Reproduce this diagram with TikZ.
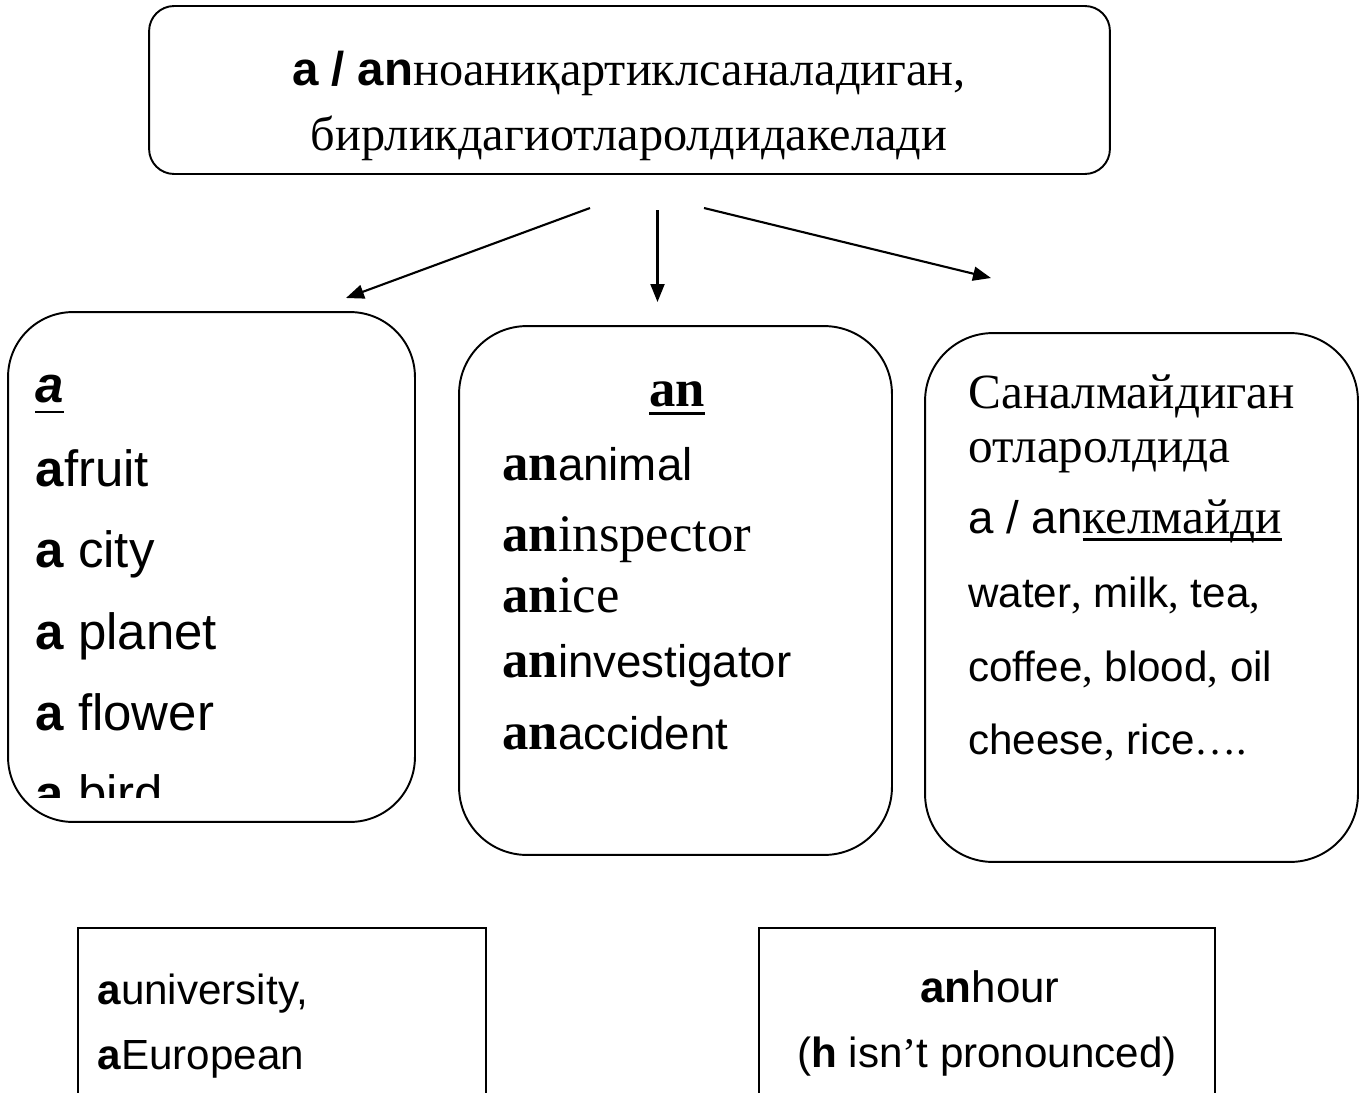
\documentclass[tikz,border=0pt]{standalone}
\usepackage{fontspec}
\setmainfont{Liberation Serif}
\setsansfont{Liberation Sans}
\usepackage{tikz}
\usetikzlibrary{arrows.meta}

\newcommand{\fsz}[1]{\fontsize{#1}{#1}\selectfont}
\newsavebox{\ulbox}
\newcommand{\ulat}[2]{\sbox{\ulbox}{#2}\rlap{\rule[-#1]{\wd\ulbox}{1.6pt}}\usebox{\ulbox}}

\tikzset{
  roundbox/.style={draw, line width=1.1pt, rounded corners=#1, inner sep=0pt},
  plainbox/.style={draw, line width=1pt, inner sep=0pt},
  txt/.style={inner sep=0pt, anchor=base west},
  ctxt/.style={inner sep=0pt, anchor=base},
  pointer/.style={line width=1.2pt, -{Triangle[length=0.36cm,width=0.28cm]}}
}

\begin{document}
\begin{tikzpicture}[x=0.02cm,y=-0.02cm]
        \useasboundingbox (0,0) rectangle (1364,1092);
        \clip (0,0) rectangle (1364,1092);
        % boxes
        \node[roundbox=0.5cm, minimum width=19.22cm, minimum height=3.36cm] (top) at (629.5,90) {};
        \node[roundbox=1.3cm, minimum width=8.14cm, minimum height=10.2cm] (boxa) at (211.5,567) {};
        \node[roundbox=1.36cm, minimum width=8.66cm, minimum height=10.58cm] (boxan) at (675.5,590.5) {};
        \node[roundbox=1.36cm, minimum width=8.66cm, minimum height=10.58cm] (boxnone) at (1141.5,597.5) {};
        \node[plainbox, minimum width=8.16cm, minimum height=4.04cm] (boxuni) at (282,1029) {};
        \node[plainbox, minimum width=9.12cm, minimum height=4.04cm] (boxhour) at (987,1029) {};
        % top text
        \node[ctxt] (topA) at (629,85) {\fsz{27.5pt}{\sffamily\bfseries\fsz{27pt}a / an}ноаниқартиклсаналадиган,};
        \node[ctxt] (topB) at (629,150) {\fsz{27.5pt}бирликдагиотларолдидакелади};
        % arrows
        \coordinate (fromL) at (590,208);
        \coordinate (toL) at (346,298);
        \coordinate (fromM) at (657.5,210);
        \coordinate (toM) at (657.5,302);
        \coordinate (fromR) at (704,208);
        \coordinate (toR) at (991,278);
        \draw[pointer] (fromL) -- (toL);
        \draw[pointer] (fromM) -- (toM);
        \draw[pointer] (fromR) -- (toR);
        % left box: a
        \begin{scope}[font=\sffamily\fsz{29pt}]
          \node[txt] (aHead) at (35,402) {\ulat{6.5pt}{\bfseries\itshape a}};
          \node[txt] (aFruit) at (35,486) {\textbf{a}fruit};
          \node[txt] (aCity) at (35,567) {\textbf{a} city};
          \node[txt] (aPlanet) at (35,649) {\textbf{a} planet};
          \node[txt] (aFlower) at (35,730) {\textbf{a} flower};
          \clip (10,314) rectangle (413,797);
          \node[txt] (aBird) at (35,811) {\textbf{a} bird};
        \end{scope}
        % middle box: an
        \begin{scope}[font=\rmfamily\fsz{30pt}]
          \node[ctxt] (anHead) at (677,406) {\bfseries\ulat{5pt}{an}};
          \node[txt] (anAnimal) at (502,480) {\textbf{an}{\sffamily\fsz{26pt}animal}};
          \node[txt] (anInspector) at (502,551) {\textbf{an}inspector};
          \node[txt] (anIce) at (502,612) {\textbf{an}ice};
          \node[txt] (anInvest) at (502,677) {\textbf{an}{\sffamily\fsz{26pt}investigator}};
          \node[txt] (anAccident) at (502,749) {\textbf{an}{\sffamily\fsz{26pt}accident}};
        \end{scope}
        % right box: uncountable
        \begin{scope}[font=\rmfamily\fsz{28pt}]
          \node[txt] (nHead) at (968,408) {Саналмайдиган};
          \node[txt] (nHeadB) at (968,462) {отларолдида};
          \node[txt] (nNot) at (968,533) {{\sffamily\fsz{26pt}a / an}\ulat{4.5pt}{келмайди}};
        \end{scope}
        \begin{scope}[font=\sffamily\fsz{24pt}]
          \node[txt] (nWater) at (968,607) {water{\rmfamily,} milk{\rmfamily,} tea{\rmfamily,}};
          \node[txt] (nCoffee) at (968,681) {coffee{\rmfamily,} blood{\rmfamily,} oil};
          \node[txt] (nCheese) at (968,754) {cheese{\rmfamily,} rice{\rmfamily….}};
          % bottom boxes
          \node[txt] (uUni) at (97,1004) {\textbf{a}university,};
          \node[txt] (uEuro) at (97,1069) {\textbf{a}European};
          \node[ctxt] (hHour) at (990,1002) {\fsz{25pt}\textbf{an}hour};
          \node[ctxt] (hNote) at (987,1067) {(\textbf{h} isn{\rmfamily ’}t pronounced)};
        \end{scope}
\end{tikzpicture}
\end{document}
